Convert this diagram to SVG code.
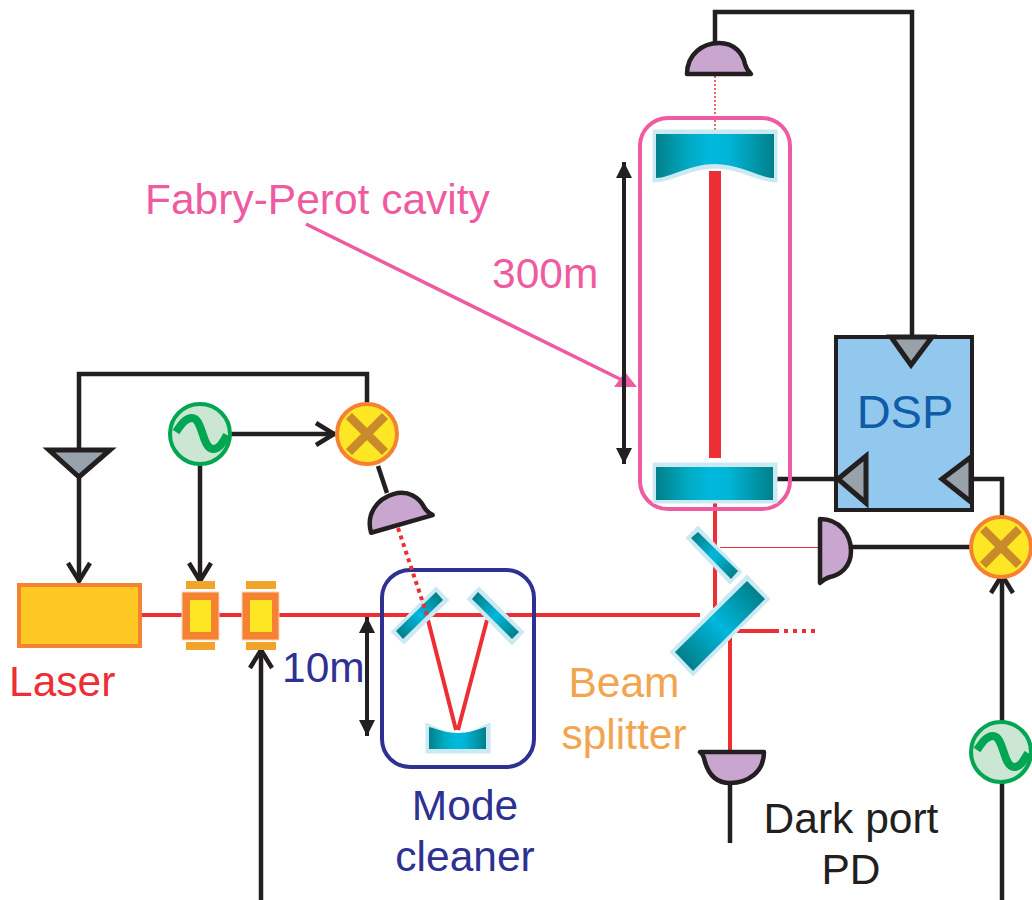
<svg xmlns="http://www.w3.org/2000/svg" xmlns:xlink="http://www.w3.org/1999/xlink" width="1032" height="900" viewBox="0 0 1032 900">
<style>
text{font-family:"Liberation Sans",Arial,sans-serif;font-size:42.5px}
.k{fill:none;stroke:#231f20;stroke-width:4.5}
.r{fill:none;stroke:#ee2e35;stroke-width:4}
.pd{fill:#c9a6cf;stroke:#231f20;stroke-width:4.5;stroke-linejoin:round}
.tri{fill:#98a2ab;stroke:#231f20;stroke-width:5}
.pale{fill:#cbe9f3;stroke:#cbe9f3;stroke-width:1;stroke-linejoin:round}
.mix{fill:#fde725;stroke:#f58232;stroke-width:4}
.x{stroke:#c98a2b;stroke-width:8.5;fill:none}
.osc{fill:#cce6d4;stroke:#00a651;stroke-width:4}
.sine{fill:none;stroke:#00a651;stroke-width:8}
.mod{fill:#f58232;stroke:#fbd5b5;stroke-width:1}
.bar{fill:#f0a429}
.core{fill:#fde725}
</style>
<defs>
<linearGradient id="gh" x1="0" y1="0" x2="1" y2="0"><stop offset="0" stop-color="#00808a"/><stop offset="0.28" stop-color="#00abc4"/><stop offset="0.47" stop-color="#00b9de"/><stop offset="0.62" stop-color="#00b5d6"/><stop offset="1" stop-color="#00808a"/></linearGradient>
<linearGradient id="bs" gradientUnits="userSpaceOnUse" x1="756" y1="590" x2="684" y2="661"><stop offset="0" stop-color="#00808a"/><stop offset="0.5" stop-color="#00b7dc"/><stop offset="1" stop-color="#00808a"/></linearGradient>
<linearGradient id="sm" gradientUnits="userSpaceOnUse" x1="694" y1="535" x2="735" y2="575"><stop offset="0" stop-color="#00808a"/><stop offset="0.5" stop-color="#00b7dc"/><stop offset="1" stop-color="#00808a"/></linearGradient>
<linearGradient id="ml" gradientUnits="userSpaceOnUse" x1="439" y1="596" x2="400" y2="635"><stop offset="0" stop-color="#00808a"/><stop offset="0.5" stop-color="#00b7dc"/><stop offset="1" stop-color="#00808a"/></linearGradient>
<linearGradient id="mr" gradientUnits="userSpaceOnUse" x1="475" y1="596" x2="515" y2="636"><stop offset="0" stop-color="#00808a"/><stop offset="0.5" stop-color="#00b7dc"/><stop offset="1" stop-color="#00808a"/></linearGradient>
<path id="pdshape" d="M-28,0C-28,-20 -12,-31 4,-31C20,-31 28,-20 30,-10C31,-6 33,-3 36,0Z"/>
<marker id="open" markerUnits="userSpaceOnUse" markerWidth="26" markerHeight="28" refX="21" refY="13" orient="auto"><path d="M2,2L20,13L2,24" fill="none" stroke="#231f20" stroke-width="4.5"/></marker>
<marker id="solid" markerUnits="userSpaceOnUse" markerWidth="18" markerHeight="18" refX="16" refY="8" orient="auto-start-reverse"><path d="M0,0L16,8L0,16Z" fill="#231f20"/></marker>
</defs>

<g id="connectors">
<path class="r" d="M140,615H700"/>
<path class="r" d="M715,503V612"/>
<path class="r" d="M730,631V752"/>
<path class="r" d="M730,631H775"/>
<path class="r" d="M775,631H820" stroke-dasharray="4 5"/>
<path d="M720,547.5H820" fill="none" stroke="#ee2e35" stroke-width="1.2"/>
<path class="r" d="M428,620L456,730M487,620L458,730"/>
<path d="M715,76V130" fill="none" stroke="#ee2e35" stroke-width="1.5" stroke-dasharray="2 2"/>
<path d="M306,224L628,383" fill="none" stroke="#ef5ba1" stroke-width="3.5"/>
<path d="M614,387L637,387L625,372Z" fill="#ef5ba1"/>
<path class="k" d="M715,43V12H912V336"/>
<path class="k" d="M79,448V374H367V403"/>
<path class="k" d="M79,478V582" marker-end="url(#open)"/>
<path class="k" d="M200,465V582" marker-end="url(#open)"/>
<path class="k" d="M231,434H335" marker-end="url(#open)"/>
<path class="k" d="M378,466L387,493"/>
<path class="k" d="M261,900V649" marker-end="url(#open)"/>
<path class="k" d="M775,479H837"/>
<path class="k" d="M973,479H1002V516"/>
<path class="k" d="M851,547H970"/>
<path class="k" d="M1002,721V574" marker-end="url(#open)"/>
<path class="k" d="M1002,783V900"/>
<path class="k" d="M730,783V843"/>
<path d="M367,617V736" fill="none" stroke="#231f20" stroke-width="4" marker-start="url(#solid)" marker-end="url(#solid)"/>
<path d="M624,162V464" fill="none" stroke="#231f20" stroke-width="4" marker-start="url(#solid)" marker-end="url(#solid)"/>
</g>

<g id="fabry-perot">
<rect x="640" y="118" width="150" height="391" rx="28" fill="none" stroke="#ef5ba1" stroke-width="4"/>
<path class="pale" d="M653,130H777V182C758,182 740,168 715,168C690,168 672,182 653,182Z"/>
<path fill="url(#gh)" d="M656,134H774V178C760,178 740,164 715,164C690,164 670,178 656,178Z"/>
<rect x="709" y="171" width="12" height="287" fill="#ee2e35"/>
<rect class="pale" x="653" y="463" width="124" height="40"/>
<rect x="656" y="467" width="117" height="33" fill="url(#gh)"/>
</g>

<g id="pd-top"><use xlink:href="#pdshape" href="#pdshape" class="pd" transform="translate(715,74)"/></g>
<g id="pd-mode"><use xlink:href="#pdshape" href="#pdshape" class="pd" transform="translate(398,525) rotate(-16)"/></g>
<g id="pd-right"><use xlink:href="#pdshape" href="#pdshape" class="pd" transform="translate(820,547) rotate(90)"/></g>
<g id="pd-dark"><path class="pd" d="M700,752H764C764,772 748,783 730,783C714,783 708,772 705,762C704,757 703,754 700,752Z"/></g>

<g id="dsp">
<rect x="836" y="337" width="136" height="173" fill="#92c8ed" stroke="#231f20" stroke-width="4"/>
<path class="tri" d="M891,337H932L911,365Z"/>
<path class="tri" d="M838,479L866,456V503Z"/>
<path class="tri" d="M942,479L971,457V502Z"/>
<text x="905" y="428" text-anchor="middle" style="font-size:47px" fill="#0f5ca8">DSP</text>
</g>

<g id="splitter-pickoff">
<path class="pale" d="M698,526L742,572L730,584L686,538Z"/>
<path fill="url(#sm)" d="M698,532L738,571L731,579L691,538Z"/>
</g>
<g id="beam-splitter">
<path class="pale" d="M747,575L770,599L693,676L670,652Z"/>
<path fill="url(#bs)" d="M747,581L765,599L693,671L675,652Z"/>
</g>

<g id="mixer-right">
<circle class="mix" cx="1001" cy="547" r="30"/>
<path class="x" d="M983,529L1019,565M1019,529L983,565"/>
</g>
<g id="mixer-left">
<circle class="mix" cx="367" cy="434" r="30"/>
<path class="x" d="M349,416L385,452M385,416L349,452"/>
</g>
<g id="osc-right">
<circle class="osc" cx="1001" cy="752" r="30"/>
<path class="sine" d="M977,750C983,741 987,736 993,736C1004,736 1003,767 1014,767C1020,767 1023,762 1028,753"/>
</g>
<g id="osc-left">
<circle class="osc" cx="200" cy="434" r="30"/>
<path class="sine" d="M176,432C182,423 186,418 192,418C203,418 202,449 213,449C219,449 222,444 227,435"/>
</g>
<g id="amp-left">
<path class="tri" d="M49,450H110L79,477Z"/>
</g>

<g id="laser">
<rect x="19" y="585" width="121" height="61" fill="#fdc823" stroke="#f58232" stroke-width="4"/>
</g>
<g id="eom-1">
<rect class="bar" x="186" y="581" width="29" height="8"/>
<rect class="bar" x="186" y="642" width="29" height="8"/>
<rect class="mod" x="182" y="592" width="37" height="48"/>
<rect class="core" x="190" y="600" width="21" height="32"/>
</g>
<g id="eom-2">
<rect class="bar" x="246" y="581" width="30" height="8"/>
<rect class="bar" x="246" y="642" width="30" height="8"/>
<rect class="mod" x="242" y="592" width="37" height="48"/>
<rect class="core" x="250" y="600" width="22" height="32"/>
</g>

<g id="mode-cleaner">
<path class="pale" d="M436,587L449,600L404,644L391,632Z"/>
<path fill="url(#ml)" d="M436,592L443,600L403,639L396,631Z"/>
<path class="pale" d="M479,587L467,599L512,645L524,632Z"/>
<path fill="url(#mr)" d="M478,592L472,599L512,639L519,632Z"/>
<path class="pale" d="M426,723C438,728 448,735 458,735C468,735 478,728 490,723V753H426Z"/>
<path fill="url(#gh)" d="M429,727C440,730 448,733 458,733C468,733 476,730 486,727V749H429Z"/>
<rect x="382" y="570" width="152" height="197" rx="28" fill="none" stroke="#2e3192" stroke-width="4"/>
</g>

<g id="connectors-over">
<path class="r" d="M398,528L427,615" stroke-dasharray="4 4"/>
</g>

<g id="labels">
<text x="145" y="214" fill="#ef5ba1">Fabry-Perot cavity</text>
<text x="492" y="288" fill="#ef5ba1">300m</text>
<text x="9" y="696" fill="#ee2e35">Laser</text>
<text x="282" y="682" fill="#2e3192">10m</text>
<text x="465" y="820" text-anchor="middle" fill="#2e3192">Mode</text>
<text x="465" y="871" text-anchor="middle" fill="#2e3192">cleaner</text>
<text x="624" y="697" text-anchor="middle" fill="#f3a44f">Beam</text>
<text x="624" y="749" text-anchor="middle" fill="#f3a44f">splitter</text>
<text x="851" y="833" text-anchor="middle" fill="#231f20">Dark port</text>
<text x="851" y="884" text-anchor="middle" fill="#231f20">PD</text>
</g>
</svg>
